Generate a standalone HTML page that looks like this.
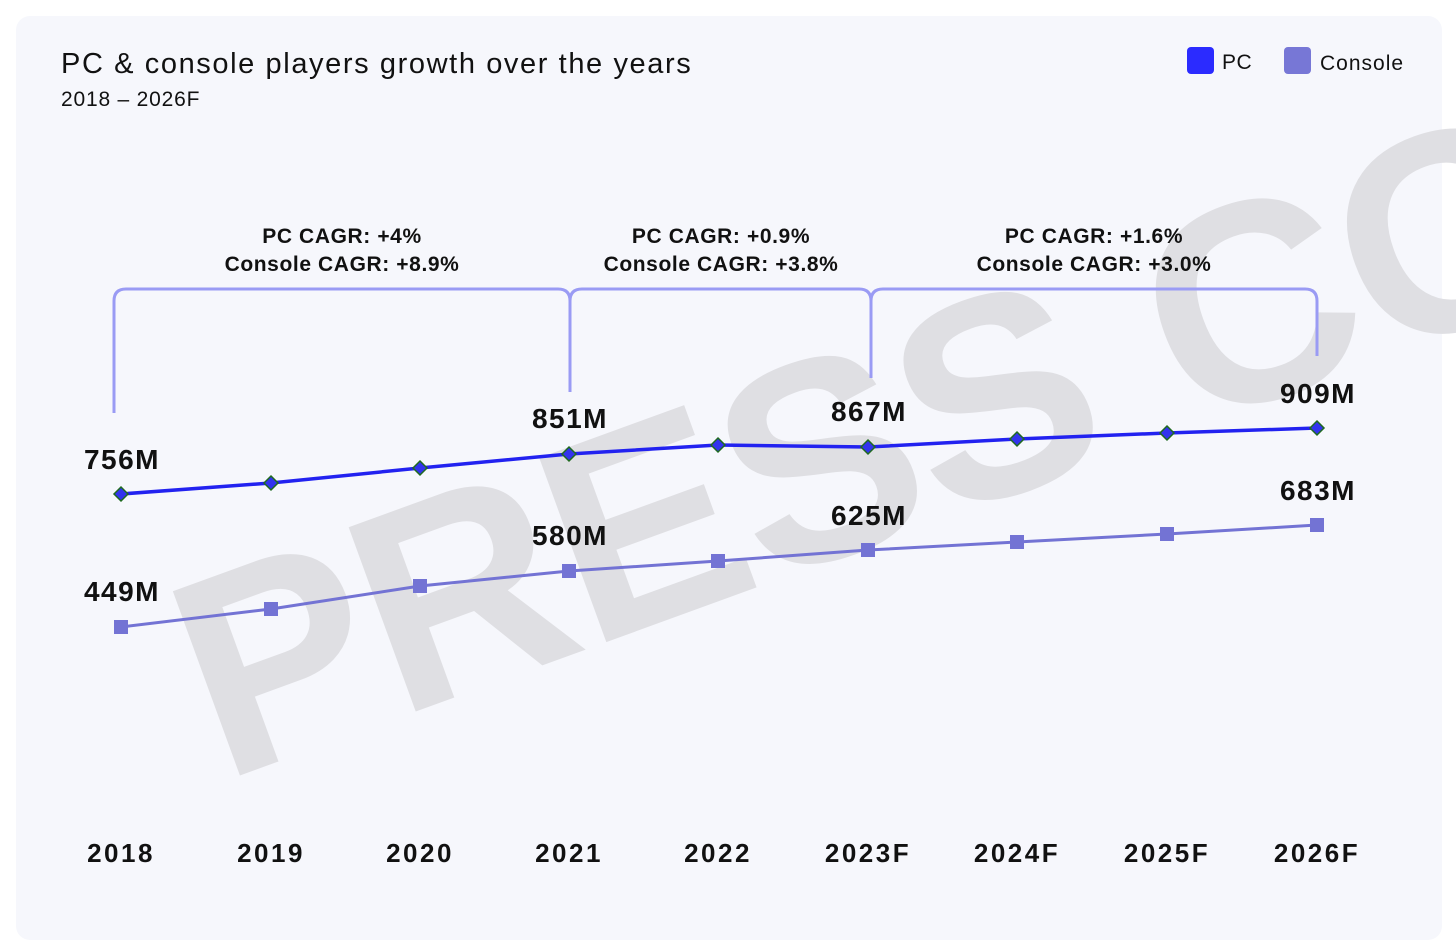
<!DOCTYPE html>
<html><head><meta charset="utf-8"><style>
html,body{margin:0;padding:0;background:#fff;}
svg{display:block;font-family:"Liberation Sans",sans-serif;}
</style></head><body>
<svg width="1456" height="948" viewBox="0 0 1456 948">
<rect x="16" y="16" width="1426" height="924" rx="14" fill="#f6f7fc"/>
<clipPath id="c"><rect x="16" y="16" width="1440" height="924"/></clipPath>
<g clip-path="url(#c)">
<text x="222" y="782" transform="rotate(-20 222 782)" font-size="285" font-weight="bold" fill="#dfdfe3" letter-spacing="-3">PRESS CO</text>
</g>
<text x="61" y="73" font-size="29" fill="#111" letter-spacing="1.6">PC &amp; console players growth over the years</text>
<text x="61" y="106" font-size="21" fill="#111" letter-spacing="0.8">2018 – 2026F</text>
<rect x="1187" y="47" width="27" height="27" rx="4" fill="#2b2bff"/>
<text x="1222" y="69" font-size="21" fill="#111" letter-spacing="0.5">PC</text>
<rect x="1284" y="47" width="27" height="27" rx="4" fill="#7777d6"/>
<text x="1320" y="70" font-size="21" fill="#111" letter-spacing="1">Console</text>
<g fill="none" stroke="#9a9bf4" stroke-width="3">
<path d="M114 413 V301 Q114 289 126 289 H558 Q570 289 570 301 V392 M570 301 Q570 289 582 289 H859 Q871 289 871 301 V378 M871 301 Q871 289 883 289 H1305 Q1317 289 1317 301 V356"/>
</g>
<g font-size="21" font-weight="bold" fill="#111" text-anchor="middle" letter-spacing="0.6">
<text x="342" y="243">PC CAGR: +4%</text><text x="342" y="271">Console CAGR: +8.9%</text>
<text x="721" y="243">PC CAGR: +0.9%</text><text x="721" y="271">Console CAGR: +3.8%</text>
<text x="1094" y="243">PC CAGR: +1.6%</text><text x="1094" y="271">Console CAGR: +3.0%</text>
</g>
<polyline fill="none" stroke="#2222f0" stroke-width="3.5" points="121,494 271,483 420,468 569,454 718,445 868,447 1017,439 1167,433 1317,428"/>
<polyline fill="none" stroke="#7373d4" stroke-width="3" points="121,627 271,609 420,586 569,571 718,561 868,550 1017,542 1167,534 1317,525"/>
<g fill="#3333ee" stroke="#1f6a1f" stroke-width="1.5">
<path d="M121 487l7 7-7 7-7-7z"/><path d="M271 476l7 7-7 7-7-7z"/><path d="M420 461l7 7-7 7-7-7z"/><path d="M569 447l7 7-7 7-7-7z"/><path d="M718 438l7 7-7 7-7-7z"/><path d="M868 440l7 7-7 7-7-7z"/><path d="M1017 432l7 7-7 7-7-7z"/><path d="M1167 426l7 7-7 7-7-7z"/><path d="M1317 421l7 7-7 7-7-7z"/>
</g>
<g fill="#7373d4">
<rect x="114" y="620" width="14" height="14"/><rect x="264" y="602" width="14" height="14"/><rect x="413" y="579" width="14" height="14"/><rect x="562" y="564" width="14" height="14"/><rect x="711" y="554" width="14" height="14"/><rect x="861" y="543" width="14" height="14"/><rect x="1010" y="535" width="14" height="14"/><rect x="1160" y="527" width="14" height="14"/><rect x="1310" y="518" width="14" height="14"/>
</g>
<g font-size="28" fill="#111" text-anchor="middle" font-weight="bold" letter-spacing="1.5">
<text x="122" y="469">756M</text><text x="570" y="428">851M</text><text x="869" y="421">867M</text><text x="1318" y="403">909M</text>
<text x="122" y="601">449M</text><text x="570" y="545">580M</text><text x="869" y="525">625M</text><text x="1318" y="500">683M</text>
</g>
<g font-size="26" fill="#111" text-anchor="middle" font-weight="bold" letter-spacing="2.5">
<text x="121" y="862">2018</text><text x="271" y="862">2019</text><text x="420" y="862">2020</text><text x="569" y="862">2021</text><text x="718" y="862">2022</text><text x="868" y="862">2023F</text><text x="1017" y="862">2024F</text><text x="1167" y="862">2025F</text><text x="1317" y="862">2026F</text>
</g>
</svg>
</body></html>
